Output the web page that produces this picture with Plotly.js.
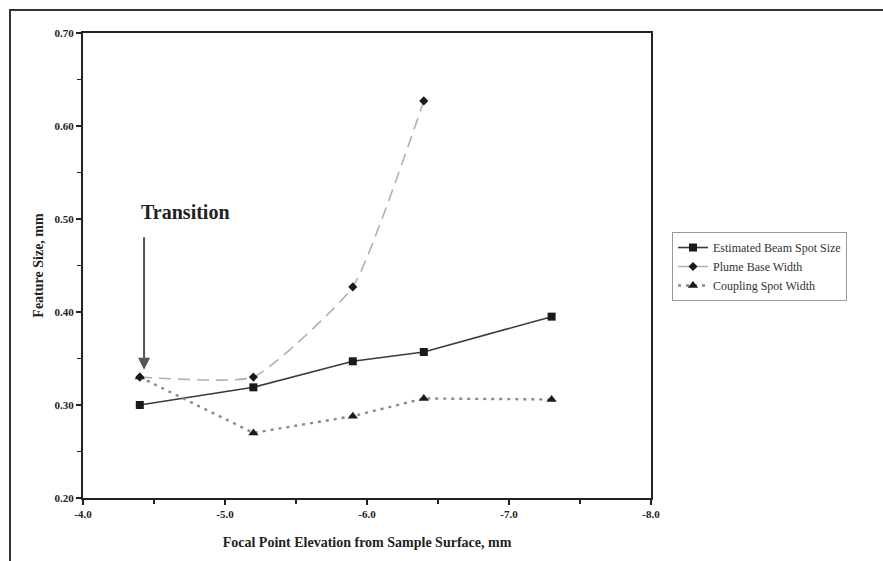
<!DOCTYPE html>
<html>
<head>
<meta charset="utf-8">
<script src="https://cdn.plot.ly/plotly-3.0.1.min.js"></script>
<style>
html,body{margin:0;padding:0;background:#fff;}
#chart{width:883px;height:561px;}
</style>
</head>
<body>
<div id="chart"></div>
<script>
// Data
var elevation = [-4.4, -5.2, -5.9, -6.4, -7.3];
var beamSpotSize = [0.300, 0.319, 0.347, 0.357, 0.395];
var plumeElevation = [-4.4, -5.2, -5.9, -6.4];
var plumeBaseWidth = [0.330, 0.330, 0.427, 0.627];
var couplingSpotWidth = [0.330, 0.270, 0.288, 0.307, 0.306];

var seriesNames = ['Estimated Beam Spot Size', 'Plume Base Width', 'Coupling Spot Width'];
var xTickVals = [-4, -5, -6, -7, -8];
var xTickText = ['-4.0', '-5.0', '-6.0', '-7.0', '-8.0'];
var yTickVals = [0.2, 0.3, 0.4, 0.5, 0.6, 0.7];
var yTickText = ['0.20', '0.30', '0.40', '0.50', '0.60', '0.70'];

var serif = '"Liberation Serif", "Times New Roman", serif';

var traces = [
  {
    x: elevation, y: beamSpotSize, name: seriesNames[0],
    type: 'scatter', mode: 'lines+markers',
    line: {color: '#3a3a3a', width: 1.6},
    marker: {symbol: 'square', size: 8, color: '#1a1a1a'}
  },
  {
    x: plumeElevation, y: plumeBaseWidth, name: seriesNames[1],
    type: 'scatter', mode: 'lines+markers',
    line: {color: '#b0b0b0', width: 1.6, dash: '12px,7px', shape: 'spline', smoothing: 0.45},
    marker: {symbol: 'diamond', size: 7, color: '#1a1a1a'}
  },
  {
    x: elevation, y: couplingSpotWidth, name: seriesNames[2],
    type: 'scatter', mode: 'lines+markers',
    line: {color: '#8a8a8a', width: 2.4, dash: '3px,5px'},
    marker: {symbol: 'triangle-up', size: 9, color: '#1a1a1a'}
  }
];

var layout = {
  width: 883, height: 561,
  margin: {l: 83, r: 232, t: 33, b: 63, pad: 0},
  paper_bgcolor: '#ffffff', plot_bgcolor: '#ffffff',
  font: {family: serif, color: '#222'},
  showlegend: true,
  legend: {
    x: 1.037, y: 0.572, xanchor: 'left', yanchor: 'top',
    bordercolor: '#999', borderwidth: 1, bgcolor: '#ffffff',
    font: {family: serif, size: 12, color: '#333'},
    itemwidth: 30, tracegroupgap: 0
  },
  xaxis: {
    range: [-4, -8], autorange: false,
    tickvals: xTickVals, ticktext: xTickText,
    showgrid: false, zeroline: false,
    showline: true, linecolor: '#222', linewidth: 2, mirror: true,
    ticks: 'outside', ticklen: 5, tickwidth: 2, tickcolor: '#222',
    minor: {dtick: 0.5, ticks: 'outside', ticklen: 4, tickwidth: 1.5, tickcolor: '#222', showgrid: false},
    tickfont: {family: serif, size: 11, color: '#222', weight: 'bold'},
    title: {text: '<b>Focal Point Elevation from Sample Surface, mm</b>', font: {family: serif, size: 14, color: '#222'}, standoff: 18}
  },
  yaxis: {
    range: [0.2, 0.7], autorange: false,
    tickvals: yTickVals, ticktext: yTickText,
    showgrid: false, zeroline: false,
    showline: true, linecolor: '#222', linewidth: 2, mirror: true,
    ticks: 'outside', ticklen: 5, tickwidth: 2, tickcolor: '#222',
    minor: {dtick: 0.05, ticks: 'outside', ticklen: 4, tickwidth: 1.5, tickcolor: '#222', showgrid: false},
    tickfont: {family: serif, size: 11, color: '#222', weight: 'bold'},
    title: {text: '<b>Feature Size, mm</b>', font: {family: serif, size: 14, color: '#222'}, standoff: 8}
  },
  annotations: [
    {
      x: -4.72, y: 0.507, xref: 'x', yref: 'y',
      text: '<b>Transition</b>', showarrow: false,
      font: {family: serif, size: 20, color: '#222'}
    },
    {
      x: -4.43, y: 0.338, xref: 'x', yref: 'y',
      ax: -4.43, ay: 0.482, axref: 'x', ayref: 'y',
      text: '', showarrow: true,
      arrowhead: 2, arrowsize: 1.2, arrowwidth: 2, arrowcolor: '#555'
    }
  ],
  shapes: [
    {
      type: 'rect', xref: 'paper', yref: 'paper',
      x0: -0.1285, x1: 1.45, y0: -0.2, y1: 1.0495,
      line: {color: '#333', width: 2}, fillcolor: 'rgba(0,0,0,0)', layer: 'below'
    }
  ]
};

Plotly.newPlot('chart', traces, layout, {displayModeBar: false, staticPlot: true});
</script>
</body>
</html>
